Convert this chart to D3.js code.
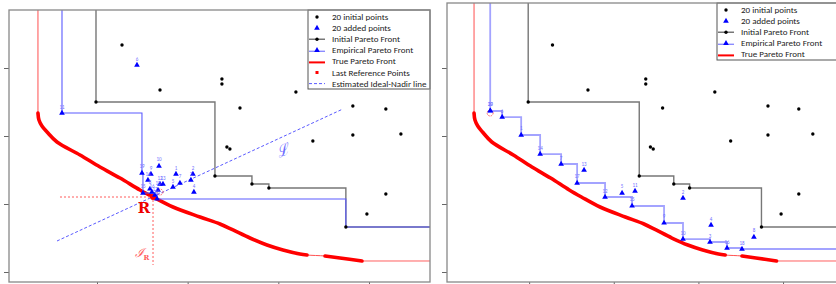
<!DOCTYPE html>
<html>
<head>
<meta charset="utf-8">
<script src="https://cdn.jsdelivr.net/npm/d3@7"></script>
<style>
  body { margin: 0; background: #fff; }
  svg { display: block; font-family: Carlito, Lato, "Liberation Sans", sans-serif; }
</style>
</head>
<body>
<svg id="chart" width="836" height="284"></svg>
<script>
// axis ticks (the figure shows no tick labels)
var xTicks = [1, 2, 3, 4];
var yTicks = [1, 2, 3, 4];

// 20 initial points, shared by both runs
var initX = [0.989, 2.301, 2.709, 2.896, 3.745, 1.276, 1.695, 2.378, 2.378, 3.194,
             2.577, 3.822, 4.186, 3.822, 4.352, 3.381, 2.433, 2.466, 4.186, 3.977];
var initY = [3.500, 2.412, 2.294, 2.235, 1.662, 4.338, 3.676, 3.838, 3.765, 3.647,
             3.412, 3.441, 3.397, 3.015, 3.029, 2.926, 2.838, 2.809, 2.147, 1.853];

// run A (left): 20 added points
var addALabels = ["1", "2", "3", "4", "5", "6", "7", "8", "9", "10",
                  "11", "12", "13", "14", "15", "16", "17", "18", "19", "20"];
var addAX = [1.871, 2.058, 2.036, 2.069, 1.838, 1.441, 1.915, 1.584, 1.595, 1.684,
             0.614, 1.695, 1.728, 1.562, 1.507, 1.606, 1.639, 1.673, 1.496, 1.662];
var addAY = [2.441, 2.441, 2.353, 2.176, 2.250, 4.044, 2.309, 2.221, 2.441, 2.559,
             3.338, 2.294, 2.294, 2.353, 2.162, 2.176, 2.132, 2.206, 2.456, 2.074];

// run B (right): 20 added points
var addBLabels = ["20", "19", "6", "1", "14", "7", "13", "17", "12", "5",
                  "11", "15", "9", "10", "2", "3", "4", "16", "18", "8"];
var addBX = [0.540, 0.541, 0.681, 0.906, 1.130, 1.378, 1.649, 1.567, 1.897, 2.098,
             2.251, 2.216, 2.594, 2.818, 2.818, 3.137, 3.149, 3.338, 3.515, 3.656];
var addBY = [3.368, 3.372, 3.279, 3.015, 2.735, 2.588, 2.500, 2.309, 2.103, 2.162,
             2.191, 1.971, 1.721, 1.485, 2.088, 1.441, 1.691, 1.353, 1.338, 1.515];

// true Pareto front
var trueX = [0.349, 0.360, 0.393, 0.449, 0.559, 0.813, 1.033, 1.254, 1.474, 1.618, 1.838,
             2.136, 2.357, 2.500, 2.687, 2.875, 3.051, 3.238, 3.316, 3.515, 3.680, 3.923];
var trueY = [3.338, 3.235, 3.147, 3.059, 2.912, 2.721, 2.544, 2.382, 2.206, 2.103, 1.956,
             1.809, 1.706, 1.618, 1.500, 1.397, 1.324, 1.265, 1.250, 1.235, 1.206, 1.162];
var thickParts = [[0, 18], [19, 21]];

// estimated ideal-nadir line, reference point R and last reference points
var idealNadirX = [0.559, 3.712];
var idealNadirY = [1.456, 3.397];
var refR = [1.618, 2.103];
var refGuideX0 = 0.592;
var refGuideY0 = 1.103;
var lastRefA = [1.695, 2.176];
var lastRefB = [0.539, 3.338];

var legendA = ["20 initial points", "20 added points", "Initial Pareto Front", "Empirical Pareto Front",
               "True Pareto Front", "Last Reference Points", "Estimated Ideal-Nadir line"];
var legendB = legendA.slice(0, 5);
var legendKinds = ["dot", "tri", "initLine", "empLine", "trueLine", "square", "dash"];

var svg = d3.select("#chart");
var xDomain = [0.0295, 4.673];

function zip(xs, ys) {
  return xs.map(function(v, i) { return [v, ys[i]]; });
}

// non-dominated points (minimisation of both objectives), sorted by x
function paretoFront(pts) {
  var sorted = pts.slice().sort(function(a, b) { return a[0] - b[0] || a[1] - b[1]; });
  var front = [], best = Infinity;
  sorted.forEach(function(p) {
    if (p[1] < best) { front.push(p); best = p[1]; }
  });
  return front;
}

function drawPanel(cfg) {
  var x = d3.scaleLinear().domain(xDomain).range(cfg.xRange);
  var y = d3.scaleLinear().domain(cfg.yDomain).range(cfg.yRange);
  var g = svg.append("g");

  // tick marks only
  g.append("g")
    .attr("transform", `translate(${cfg.xRange[0]},0)`)
    .call(d3.axisLeft(y).tickValues(yTicks).tickSize(5).tickFormat(""))
    .call(function(a) { a.select(".domain").remove(); a.selectAll("line").attr("stroke", "#666"); });
  g.append("g")
    .attr("transform", `translate(0,${cfg.yRange[0]})`)
    .call(d3.axisBottom(x).tickValues(xTicks).tickSize(5).tickFormat(""))
    .call(function(a) { a.select(".domain").remove(); a.selectAll("line").attr("stroke", "#666"); });

  g.append("clipPath").attr("id", cfg.id)
    .append("rect")
    .attr("x", cfg.xRange[0]).attr("y", cfg.yRange[1])
    .attr("width", cfg.xRange[1] - cfg.xRange[0])
    .attr("height", cfg.yRange[0] - cfg.yRange[1]);
  var plot = g.append("g").attr("clip-path", `url(#${cfg.id})`);

  var top = cfg.yDomain[1], right = xDomain[1];
  var lin = d3.line().x(function(d) { return x(d[0]); }).y(function(d) { return y(d[1]); });
  var smooth = d3.line().x(function(d) { return x(d[0]); }).y(function(d) { return y(d[1]); })
    .curve(d3.curveCatmullRom.alpha(0.5));
  var step = d3.line().x(function(d) { return x(d[0]); }).y(function(d) { return y(d[1]); })
    .curve(d3.curveStepAfter);

  // true Pareto front: thin everywhere, thick on the true part
  var tf = zip(trueX, trueY);
  plot.append("path").attr("d", lin([[trueX[0], top], tf[0]]))
    .attr("fill", "none").attr("stroke", "#ff5050").attr("stroke-width", 1);
  plot.append("path").attr("d", smooth(tf))
    .attr("fill", "none").attr("stroke", "#ff5050").attr("stroke-width", 1);
  plot.append("path").attr("d", lin([tf[tf.length - 1], [right, trueY[trueY.length - 1]]]))
    .attr("fill", "none").attr("stroke", "#ff6060").attr("stroke-width", 1);
  thickParts.forEach(function(r) {
    plot.append("path").attr("d", smooth(tf.slice(r[0], r[1] + 1)))
      .attr("fill", "none").attr("stroke", "#ff0000").attr("stroke-width", 3.6)
      .attr("stroke-linecap", "round");
  });

  var init = zip(initX, initY);
  var added = zip(cfg.addX, cfg.addY);

  // initial Pareto front
  var f0 = paretoFront(init);
  plot.append("path")
    .attr("d", step([[f0[0][0], top]].concat(f0, [[right, f0[f0.length - 1][1]]])))
    .attr("fill", "none").attr("stroke", "#777").attr("stroke-width", 1.4);

  // empirical Pareto front (initial + added)
  var f1 = paretoFront(init.concat(added));
  plot.append("path")
    .attr("d", step([[f1[0][0], top]].concat(f1, [[right, f1[f1.length - 1][1]]])))
    .attr("fill", "none").attr("stroke", cfg.empColor).attr("stroke-width", cfg.empWidth);

  if (cfg.extras) {
    plot.append("path")
      .attr("d", lin(zip(idealNadirX, idealNadirY)))
      .attr("fill", "none").attr("stroke", "#5a5aff").attr("stroke-width", 1)
      .attr("stroke-dasharray", "3,2");
    plot.append("path")
      .attr("d", lin([[refGuideX0, refR[1]], refR, [refR[0], refGuideY0]]))
      .attr("fill", "none").attr("stroke", "#ff5a5a").attr("stroke-width", 1)
      .attr("stroke-dasharray", "2,2");
    plot.append("circle").attr("cx", x(refR[0])).attr("cy", y(refR[1])).attr("r", 3).attr("fill", "#ff0000");
    plot.append("text").attr("x", x(refR[0]) - 9).attr("y", y(refR[1]) + 16)
      .attr("text-anchor", "middle").attr("fill", "#ee0000")
      .style("font-family", "'DejaVu Serif', serif").style("font-weight", "bold").style("font-size", "15px")
      .text("R");
    var ir = plot.append("text").attr("x", x(refR[0]) - 11).attr("y", y(1.22))
      .attr("text-anchor", "middle").attr("fill", "#ff5a5a")
      .style("font-family", "'DejaVu Serif', serif").style("font-style", "italic").style("font-size", "12px");
    ir.append("tspan").text("ℐ");
    ir.append("tspan").attr("dy", 3).style("font-size", "7px").style("font-style", "normal")
      .style("font-weight", "bold").text("R");
    plot.append("text")
      .attr("transform", `translate(${x(3.07)},${y(2.72)}) rotate(-25)`)
      .attr("text-anchor", "middle").attr("fill", "#6a6aff")
      .style("font-family", "'DejaVu Serif', serif").style("font-style", "italic").style("font-size", "15px")
      .text("ℒ");
  }

  // last reference point
  plot.append("circle")
    .attr("cx", x(cfg.lastRef[0])).attr("cy", y(cfg.lastRef[1])).attr("r", 3)
    .attr("fill", "none").attr("stroke", "#ff4040").attr("stroke-width", 0.8)
    .attr("stroke-dasharray", "1.5,1");

  // initial points
  plot.selectAll("circle.init").data(init).enter().append("circle")
    .attr("class", "init")
    .attr("cx", function(d) { return x(d[0]); })
    .attr("cy", function(d) { return y(d[1]); })
    .attr("r", 1.7).attr("fill", "#000");

  // added points with their order numbers
  var tri = d3.symbol().type(d3.symbolTriangle).size(14);
  plot.selectAll("path.added").data(added).enter().append("path")
    .attr("class", "added")
    .attr("d", tri)
    .attr("transform", function(d) { return `translate(${x(d[0])},${y(d[1])})`; })
    .attr("fill", "#0000ff");
  plot.selectAll("text.lab").data(added).enter().append("text")
    .attr("class", "lab")
    .attr("x", function(d) { return x(d[0]); })
    .attr("y", function(d) { return y(d[1]) - 4.5; })
    .attr("text-anchor", "middle").attr("fill", "#6f6fff")
    .style("font-size", "5px")
    .text(function(d, i) { return cfg.addLabels[i]; });

  // legend
  var lb = cfg.legendBox;
  var lg = g.append("g");
  lg.append("rect").attr("x", lb[0]).attr("y", lb[1]).attr("width", lb[2]).attr("height", lb[3])
    .attr("fill", "#fff").attr("stroke", "#555").attr("stroke-width", 1);
  cfg.legend.forEach(function(name, i) {
    var cy = lb[1] + 7 + i * 11.1, cx = lb[0] + 9, kind = legendKinds[i];
    if (kind === "dot") {
      lg.append("circle").attr("cx", cx).attr("cy", cy).attr("r", 1.7).attr("fill", "#000");
    } else if (kind === "tri") {
      lg.append("path").attr("d", tri).attr("transform", `translate(${cx},${cy})`).attr("fill", "#0000ff");
    } else if (kind === "initLine") {
      lg.append("line").attr("x1", cx - 8).attr("x2", cx + 8).attr("y1", cy).attr("y2", cy)
        .attr("stroke", "#555").attr("stroke-width", 1.2);
      lg.append("circle").attr("cx", cx).attr("cy", cy).attr("r", 1.7).attr("fill", "#000");
    } else if (kind === "empLine") {
      lg.append("line").attr("x1", cx - 8).attr("x2", cx + 8).attr("y1", cy + 1).attr("y2", cy + 1)
        .attr("stroke", "#8c8cff").attr("stroke-width", 1.4);
      lg.append("path").attr("d", tri).attr("transform", `translate(${cx},${cy})`).attr("fill", "#0000ff");
    } else if (kind === "trueLine") {
      lg.append("line").attr("x1", cx - 8).attr("x2", cx + 8).attr("y1", cy + 1).attr("y2", cy + 1)
        .attr("stroke", "#ff0000").attr("stroke-width", 2);
    } else if (kind === "square") {
      lg.append("rect").attr("x", cx - 1.5).attr("y", cy - 1.5).attr("width", 3).attr("height", 3).attr("fill", "#ff0000");
    } else {
      lg.append("line").attr("x1", cx - 8).attr("x2", cx + 8).attr("y1", cy).attr("y2", cy)
        .attr("stroke", "#5a5aff").attr("stroke-width", 1).attr("stroke-dasharray", "3,2");
    }
    lg.append("text").attr("x", cx + 15).attr("y", cy + 3)
      .attr("fill", "#222").style("font-size", "9px").text(name);
  });

  // frame
  g.append("rect")
    .attr("x", cfg.xRange[0]).attr("y", cfg.yRange[1])
    .attr("width", cfg.xRange[1] - cfg.xRange[0])
    .attr("height", cfg.yRange[0] - cfg.yRange[1])
    .attr("fill", "none").attr("stroke", "#888").attr("stroke-width", 1.3);
}

drawPanel({
  id: "clipA", xRange: [9, 430], yRange: [282, 10], yDomain: [0.853, 4.853],
  addX: addAX, addY: addAY, addLabels: addALabels,
  empColor: "#5b5bff", empWidth: 1.1, extras: true, lastRef: lastRefA,
  legend: legendA, legendBox: [308, 10, 122, 79]
});
drawPanel({
  id: "clipB", xRange: [447, 840], yRange: [282, 3], yDomain: [0.853, 4.956],
  addX: addBX, addY: addBY, addLabels: addBLabels,
  empColor: "#a3a3ff", empWidth: 1.8, extras: false, lastRef: lastRefB,
  legend: legendB, legendBox: [717, 3, 123, 57]
});
</script>
</body>
</html>
